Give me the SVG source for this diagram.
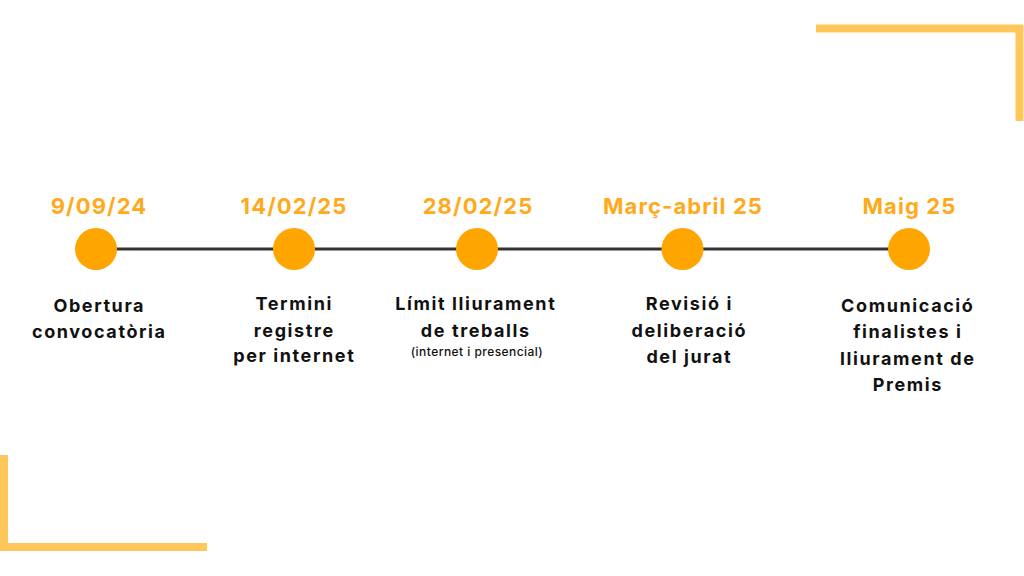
<svg xmlns="http://www.w3.org/2000/svg" width="1024" height="576" viewBox="0 0 1024 576">
<style>
.bracket{fill:none;stroke:#FFC75A;stroke-width:8}
.dot{fill:#FFA500}
.date{font-family:Inter,"Open Sans",sans-serif;font-weight:700;font-size:22px;fill:#FFAA1C;text-anchor:middle;letter-spacing:1.1px}
.lbl{font-family:Inter,"Open Sans",sans-serif;font-weight:700;font-size:18px;fill:#111;text-anchor:middle;letter-spacing:1.6px}
.small{font-family:Inter,"Open Sans",sans-serif;font-weight:500;font-size:12px;fill:#111;text-anchor:middle;letter-spacing:0.45px}
</style>
<rect width="1024" height="576" fill="#fff"/>
<path class="bracket" d="M816 28.5H1019.5V121"/>
<path class="bracket" d="M4 455V547H207"/>
<g id="connectors">
<line x1="96" y1="249" x2="908" y2="249" stroke="#333" stroke-width="3"/>
</g>
<g id="n1">
<circle class="dot" cx="96" cy="249" r="21"/>
<text class="date" x="99" y="214">9/09/24</text>
<text class="lbl" x="99.3" y="311.5">Obertura</text>
<text class="lbl" x="99.3" y="338">convocatòria</text>
</g>
<g id="n2">
<circle class="dot" cx="294" cy="249" r="21"/>
<text class="date" x="294" y="214">14/02/25</text>
<text class="lbl" x="294.3" y="310">Termini</text>
<text class="lbl" x="294.3" y="337">registre</text>
<text class="lbl" x="294.3" y="362">per internet</text>
</g>
<g id="n3">
<circle class="dot" cx="477" cy="249" r="21"/>
<text class="date" x="478" y="214">28/02/25</text>
<text class="lbl" x="475.8" y="310">Límit lliurament</text>
<text class="lbl" x="475.8" y="337">de treballs</text>
<text class="small" x="477" y="356">(internet i presencial)</text>
</g>
<g id="n4">
<circle class="dot" cx="682.5" cy="249" r="21"/>
<text class="date" x="683" y="214">Març-abril 25</text>
<text class="lbl" x="689.3" y="310">Revisió i</text>
<text class="lbl" x="689.3" y="337">deliberació</text>
<text class="lbl" x="689.3" y="363">del jurat</text>
</g>
<g id="n5">
<circle class="dot" cx="909" cy="249" r="21"/>
<text class="date" x="909.5" y="214">Maig 25</text>
<text class="lbl" x="907.8" y="311.5">Comunicació</text>
<text class="lbl" x="907.8" y="338">finalistes i</text>
<text class="lbl" x="907.8" y="365">lliurament de</text>
<text class="lbl" x="907.8" y="391">Premis</text>
</g>
</svg>
